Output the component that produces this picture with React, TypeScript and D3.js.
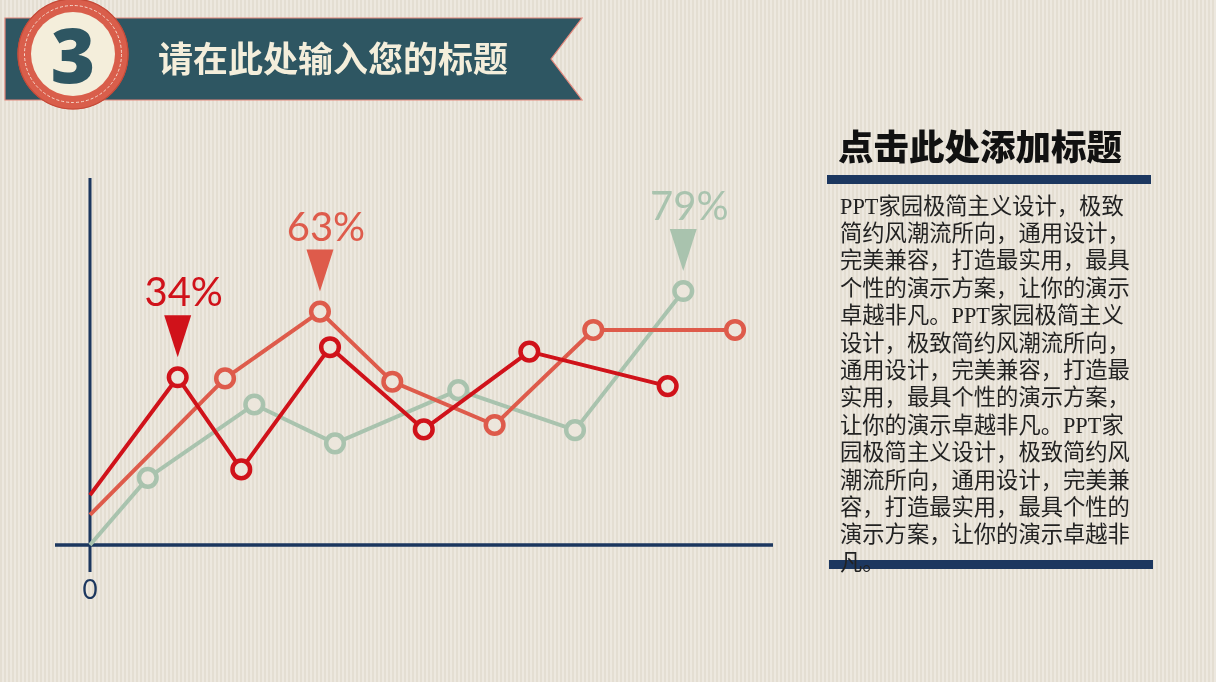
import React from "react";
import * as d3 from "d3";

const W = 1216;
const H = 682;

// Series data (x in 0..100 position units, y in 0..100 value units)
const redX = [0, 12.84, 22.15, 35.14, 48.87, 64.32, 84.58];
const redY = [13.6, 45.7, 20.6, 53.9, 31.5, 52.7, 43.3];
const salmonX = [0, 19.77, 33.67, 44.26, 59.24, 73.69, 94.44];
const salmonY = [8.2, 45.4, 63.6, 44.5, 32.7, 58.6, 58.6];
const greenX = [0, 8.46, 24.05, 35.87, 53.92, 71.01, 86.86];
const greenY = [0, 18.3, 38.3, 27.7, 42.2, 31.3, 69.2];

const seriesColors = ["#a9c3ae", "#de5b4b", "#d0121a"];
const annotationIndex = [6, 2, 1];
const annotationLabels = ["79%", "63%", "34%"];

const axisTickLabels = ["0"];

const headerTitle = "请在此处输入您的标题";
const headerNumber = "3";
const sideTitle = "点击此处添加标题";
const paragraphLines = [
  "PPT家园极简主义设计，极致",
  "简约风潮流所向，通用设计，",
  "完美兼容，打造最实用，最具",
  "个性的演示方案，让你的演示",
  "卓越非凡。PPT家园极简主义",
  "设计，极致简约风潮流所向，",
  "通用设计，完美兼容，打造最",
  "实用，最具个性的演示方案，",
  "让你的演示卓越非凡。PPT家",
  "园极简主义设计，极致简约风",
  "潮流所向，通用设计，完美兼",
  "容，打造最实用，最具个性的",
  "演示方案，让你的演示卓越非",
  "凡。",
];

const NAVY = "#1c375f";
const TEAL = "#2e5662";
const CREAM = "#f4eedb";
const RING = "#d95e4b";

export default function App() {
  const x = d3.scaleLinear().domain([0, 100]).range([90, 773]);
  const y = d3.scaleLinear().domain([0, 100]).range([545, 178]);

  const series = [
    { xs: greenX, ys: greenY },
    { xs: salmonX, ys: salmonY },
    { xs: redX, ys: redY },
  ];

  const line = d3
    .line<[number, number]>()
    .x((d) => x(d[0]))
    .y((d) => y(d[1]));

  const bannerPath = "M5,18 L582,18 L551,59 L582,100 L5,100 Z";

  return (
    <div style={{ position: "fixed", left: 0, top: 0, width: W, height: H }}>
      <svg width={W} height={H} style={{ display: "block" }}>
        <defs>
          <pattern id="stripes" width="4" height="4" patternUnits="userSpaceOnUse">
            <rect width="4" height="4" fill="#ede8df" />
            <rect width="2" height="4" fill="#e4ded2" />
          </pattern>
        </defs>
        <rect width={W} height={H} fill="url(#stripes)" />

        {/* Header banner */}
        <path d={bannerPath} fill={TEAL} stroke="#e3867a" strokeWidth={1.2} />
        <circle cx={73} cy={54} r={55.5} fill={RING} />
        <circle cx={73} cy={54} r={55} fill="none" stroke="#c44a38" strokeWidth={1.2} />
        <circle
          cx={73}
          cy={54}
          r={48.5}
          fill="none"
          stroke="#f6d9cc"
          strokeWidth={1}
          strokeDasharray="3 2"
        />
        <circle cx={73} cy={54} r={42} fill={CREAM} />
        <text
          x={73}
          y={83}
          textAnchor="middle"
          fontFamily="'Open Sans', 'DejaVu Sans', sans-serif"
          fontWeight={800}
          fontSize={76}
          fill={TEAL}
        >
          {headerNumber}
        </text>
        <text
          x={158}
          y={72}
          fontFamily="'Noto Sans CJK SC', sans-serif"
          fontWeight={700}
          fontSize={35}
          fill={CREAM}
        >
          {headerTitle}
        </text>

        {/* Axes */}
        <line x1={x(0)} x2={x(0)} y1={178} y2={572} stroke={NAVY} strokeWidth={3} />
        <line x1={55} x2={773} y1={y(0)} y2={y(0)} stroke={NAVY} strokeWidth={3.5} />
        {axisTickLabels.map((t) => (
          <text
            key={t}
            x={x(0)}
            y={599}
            textAnchor="middle"
            fontFamily="Lato, 'Open Sans', sans-serif"
            fontSize={26}
            fill={NAVY}
          >
            {t}
          </text>
        ))}

        {/* Series */}
        {series.map((s, si) => {
          const pts: [number, number][] = s.xs.map((v, i) => [v, s.ys[i]]);
          return (
            <g key={si}>
              <path
                d={line(pts) || ""}
                fill="none"
                stroke={seriesColors[si]}
                strokeWidth={4}
                strokeLinejoin="round"
              />
              {pts.slice(1).map((p, i) => (
                <circle
                  key={i}
                  cx={x(p[0])}
                  cy={y(p[1])}
                  r={8.8}
                  fill="#ece6dc"
                  stroke={seriesColors[si]}
                  strokeWidth={4.5}
                />
              ))}
            </g>
          );
        })}

        {/* Annotations */}
        {series.map((s, si) => {
          const idx = annotationIndex[si];
          const cx = x(s.xs[idx]);
          const tip = y(s.ys[idx]) - 20;
          const top = tip - 42;
          return (
            <g key={"a" + si}>
              <path
                d={`M${cx - 13.5},${top} L${cx + 13.5},${top} L${cx},${tip} Z`}
                fill={seriesColors[si]}
              />
              <text
                x={cx + 6}
                y={top - 9}
                textAnchor="middle"
                fontFamily="Lato, 'Open Sans', sans-serif"
                fontSize={40}
                fill={seriesColors[si]}
              >
                {annotationLabels[si]}
              </text>
            </g>
          );
        })}

        {/* Side panel */}
        <text
          x={838}
          y={160}
          fontFamily="'Noto Sans CJK SC', sans-serif"
          fontWeight={900}
          fontSize={35.5}
          fill="#111"
        >
          {sideTitle}
        </text>
        <rect x={827} y={175} width={324} height={9} fill={NAVY} />
        <rect x={829} y={560} width={324} height={9} fill={NAVY} />
        {paragraphLines.map((l, i) => (
          <text
            key={i}
            x={840}
            y={206 + i * 27.4}
            dominantBaseline="central"
            fontFamily="'Liberation Serif', 'Noto Sans CJK SC', serif"
            fontSize={22.3}
            fill="#222"
          >
            {l}
          </text>
        ))}
      </svg>
    </div>
  );
}
